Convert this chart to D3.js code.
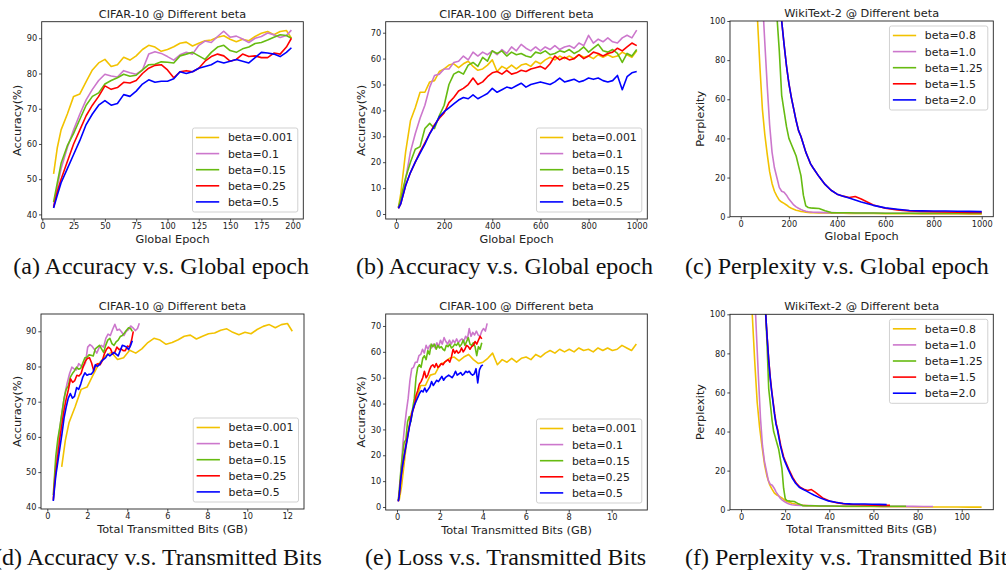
<!DOCTYPE html>
<html>
<head>
<meta charset="utf-8">
<script src="https://cdn.jsdelivr.net/npm/d3@7"></script>
<style>
body { margin: 0; background: #fff; }
svg text { font-family: "DejaVu Sans", sans-serif; fill: #222; }
.caption { font-family: "Liberation Serif", "Times New Roman", serif; font-size: 24px; fill: #111; }
</style>
</head>
<body>
<svg width="1006" height="573"></svg>
<script>
// legend labels and colours
var betaAcc = ["beta=0.001", "beta=0.1", "beta=0.15", "beta=0.25", "beta=0.5"];
var betaPpl = ["beta=0.8", "beta=1.0", "beta=1.25", "beta=1.5", "beta=2.0"];
var colors = ["#f2c200", "#cc77cc", "#66bb11", "#ff0000", "#0000ff"];

// CIFAR-10 accuracy vs epoch
var epochC10 = [9,12,15,20,25,30,35,40,45,50,55,60,65,70,75,80,85,90,95,100,105,110,115,120,125,130,135,140,145,150,155,160,165,170,175,180,185,190,195,199];
var c10Beta0001 = [51.5,59,64,68.5,73.5,74.2,77.7,81,83,84,82,82.5,84.6,83.8,85,86.8,88,87.5,86.3,86.8,87.6,88.6,88.9,87.8,88.6,89.3,89.5,90.3,90.7,89.7,89,89.7,89.3,90.5,91.4,91.9,91,91.9,92.2,90];
var c10Beta01 = [42.5,48,53,59,64,68.5,72.5,75.5,78,79.8,79.3,79,80.8,80.2,79.8,81,85.5,86.2,85.7,84.8,83.8,85.3,86,85.5,88,89.2,88.8,90.5,92,90.3,90.6,89.8,88.8,90,90.5,91.5,91,90.2,90.8,92.3];
var c10Beta015 = [43.5,49,54.5,59.5,63,67,71,73.5,74.5,77,78,78.8,79.8,79.2,79.5,81,82.5,82.6,83.3,83.2,83,85,85.5,86,85,84,86,87.5,88,86.5,86,87,87.5,88.5,88.8,89.5,90.3,91,90.8,90];
var c10Beta025 = [42,46.5,50,55,60,64,68,71,73.5,76.5,75.5,76,77.5,77.3,78,80,81.5,82.3,82.5,81,78.8,80.5,80.8,80.5,81.5,83.5,84.8,85.5,85,83.5,84,85.5,84.8,85,84.5,84.5,85.8,85.5,87.5,90];
var c10Beta05 = [41.8,45.5,49,53,57,61,65.5,68.5,71,72.3,71,71.5,74,73.5,75,77,78.2,77.5,77.8,77.8,78.5,80.5,80,80.5,81.5,82,82.5,83.5,83,83.5,84,83.5,83,84.5,86,85.8,85.5,84.8,86,87.3];

// CIFAR-100 accuracy vs epoch
var epochC100 = [10,20,40,60,80,100,120,140,160,180,200,220,240,260,280,300,320,340,360,380,400,420,440,460,480,500,520,540,560,580,600,620,640,660,680,700,720,740,760,780,800,820,840,860,880,900,920,940,960,980,1000];
var c100Beta0001 = [2.5,8,24,36,41,47,47,51,51.5,55,56,57.5,58,56.5,58,59,57,55.5,56,57.5,59.5,55,57,56,57.5,56,57.5,58,57,59,58,59.5,60.5,59.5,61,60,61,60,61.5,60.5,61,60,61.5,60.5,61.5,60.5,61,62.5,61.5,60.5,63];
var c100Beta01 = [2.5,5,13.5,24,31,37,42,49,53.5,54,56,56,58.5,59,61,59.5,62.5,61,62.5,61.5,63,61.5,63.5,62,64.5,63,65.5,64,63,64.5,63,64.5,63.5,65,63.5,64.5,65,64,66,65,69,66,67.5,66.5,68,66.5,66,68,69,68,71];
var c100Beta015 = [2.5,6,14,20,25,26,33,35,33,38,42,50,54,55,54,57.5,58.5,57,60.5,59,63,62,63,61,62.5,61.5,62,61,60.5,62.5,62,63,61.5,62,63,62.5,63.5,62,63,64.5,62.5,64,65.5,63,62.5,63.5,62,58.5,62,61,63.5];
var c100Beta025 = [2.2,4,11,16,20,24,27.5,31,34.5,37,39,43,45,47.5,48.5,50,52.5,50,51,53,54.5,55,54,55.5,54,54.5,55.5,55,56,56.5,57,56,58,61,59.5,60.5,59.5,60,61.5,60,61,62.5,62,61,62,62.5,64,63,64.5,66,65];
var c100Beta05 = [2.2,4,11,16,20,23.5,27,31,34,37.5,39.5,41,42.5,44,45,44.5,46,44.5,45.5,46.5,48.5,47,48,49,48.5,49.5,50.5,49,50,50.5,51,50.5,50,51,52.5,51,51.5,52,51,51.5,52.5,52,52.5,51.5,51,51.5,53.5,48,53,54.5,55];

// WikiText-2 perplexity vs epoch (null = above the visible range before the curve enters)
var epochWiki = [60,70,80,90,100,110,120,130,140,150,160,170,180,190,200,210,220,230,240,250,260,270,280,290,300,325,350,375,400,425,450,475,500,550,600,650,700,750,800,850,900,950,1000];
var wikiBeta08 = [135,100,76,55,42,32,23,17,13,10.5,8.5,7.5,6.8,6,5,4.3,3.8,3.3,3,2.7,2.5,2.3,2.2,2.1,2,1.9,1.9,1.8,1.8,1.8,1.7,1.7,1.6,1.6,1.5,1.5,1.5,1.4,1.4,1.4,1.4,1.3,1.3];
var wikiBeta10 = [200,170,140,112,89,67,47,33,25,20,15,13,12.5,11,9,7.5,6,5,4.3,3.7,3.2,2.8,2.5,2.4,2.3,2.2,2.1,2.1,2,2,2,1.9,1.9,1.9,1.8,1.8,1.8,1.7,1.7,1.7,1.7,1.6,1.6];
var wikiBeta125 = [null,null,null,null,null,null,null,null,125,103,85,62,54,46,40,37,34,31,26,21,11,5.5,4.7,4.5,4.4,4.2,3,2.1,2,2,2,1.9,1.9,1.9,1.8,1.8,1.8,1.8,1.8,1.8,1.8,1.8,1.8];
var wikiBeta15 = [null,null,null,null,null,null,null,null,null,null,112,100,88,77,68,61,55,49,44,41,37,33,30,27,25,20.5,16.5,13.5,11.5,10.5,9.8,10.3,9,6,4.3,3.5,3,2.7,2.5,2.4,2.3,2.2,2.2];
var wikiBeta20 = [null,null,null,null,null,null,null,null,null,null,112,100,88,77,68,61,55,49,44,41,37,33,30,27,25,20.5,16.5,13.5,11.5,10.5,9.5,8.5,7.5,5.8,4.5,3.8,3.2,3,2.9,2.9,2.8,2.7,2.6];

// transmitted bits: [epoch, GB, epoch, GB] anchors
var c10Bits = [[9,0.72,199,12.25],[9,0.3,199,4.6],[9,0.3,199,4.25],[9,0.3,199,4.3],[9,0.3,199,4.25]];
var c100Bits = [[10,0.1,1000,11.15],[10,0.06,1000,4.2],[10,0.06,1000,3.95],[10,0.06,1000,3.95],[10,0.06,1000,4.0]];
var wikiBits = [[70,5.1,1000,109],[95,6.6,1000,87],[152,11.2,1000,74.8],[170,11.2,1000,67.5],[170,11.2,1000,66]];

// tick values
var ticksEpoch200 = [0,25,50,75,100,125,150,175,200];
var ticksEpoch1000 = [0,200,400,600,800,1000];
var ticksAcc10 = [40,50,60,70,80,90];
var ticksAcc100 = [0,10,20,30,40,50,60,70];
var ticksPpl = [0,20,40,60,80,100];
var ticksGb12 = [0,2,4,6,8,10,12];
var ticksGb10 = [0,2,4,6,8,10];
var ticksGb100 = [0,20,40,60,80,100];

function toBits(epochs, a) {
  var s = d3.scaleLinear().domain([a[0], a[2]]).range([a[1], a[3]]);
  return epochs.map(s);
}

var c10 = [c10Beta0001, c10Beta01, c10Beta015, c10Beta025, c10Beta05];
var c100 = [c100Beta0001, c100Beta01, c100Beta015, c100Beta025, c100Beta05];
var wiki = [wikiBeta08, wikiBeta10, wikiBeta125, wikiBeta15, wikiBeta20];

var panels = [
  {box: [41.7, 21.7, 303.3, 219], xdom: [-0.5, 208.5], ydom: [38.7, 94.7], xt: ticksEpoch200, yt: ticksAcc10,
   title: "CIFAR-10 @ Different beta", xl: "Global Epoch", yl: "Accuracy(%)", ylx: 16.7, leg: "lower", labels: betaAcc,
   xs: c10.map(function() { return epochC10; }), ys: c10,
   cap: "(a) Accuracy v.s. Global epoch", capx: 13.3, capy: 274},
  {box: [385.7, 21.7, 647.3, 219], xdom: [-42.8, 1044], ydom: [-1.93, 74.25], xt: ticksEpoch1000, yt: ticksAcc100,
   title: "CIFAR-100 @ Different beta", xl: "Global Epoch", yl: "Accuracy(%)", ylx: 360.7, leg: "lower", labels: betaAcc,
   xs: c100.map(function() { return epochC100; }), ys: c100,
   cap: "(b) Accuracy v.s. Global epoch", capx: 356, capy: 274},
  {box: [730, 21, 993.3, 216.7], xdom: [-44.4, 1048], ydom: [0, 100], xt: ticksEpoch1000, yt: ticksPpl,
   title: "WikiText-2 @ Different beta", xl: "Global Epoch", yl: "Perplexity", ylx: 700, leg: "upper", labels: betaPpl,
   xs: wiki.map(function() { return epochWiki; }), ys: wiki,
   cap: "(c) Perplexity v.s. Global epoch", capx: 685, capy: 274},
  {box: [41, 314, 304, 509], xdom: [-0.315, 12.835], ydom: [39.52, 94.91], xt: ticksGb12, yt: ticksAcc10,
   title: "CIFAR-10 @ Different beta", xl: "Total Transmitted Bits (GB)", yl: "Accuracy(%)", ylx: 16.7, leg: "lower", labels: betaAcc,
   xs: c10Bits.map(function(a) { return toBits(epochC10, a); }), ys: c10,
   cap: "(d) Accuracy v.s. Transmitted Bits", capx: -6, capy: 565},
  {box: [385.7, 314, 647.3, 510], xdom: [-0.526, 11.66], ydom: [-1.16, 74.63], xt: ticksGb10, yt: ticksAcc100,
   title: "CIFAR-100 @ Different beta", xl: "Total Transmitted Bits (GB)", yl: "Accuracy(%)", ylx: 360.7, leg: "lower", labels: betaAcc,
   xs: c100Bits.map(function(a) { return toBits(epochC100, a); }), ys: c100,
   cap: "(e) Loss v.s. Transmitted Bits", capx: 365, capy: 565},
  {box: [730, 314.3, 993.3, 509.7], xdom: [-4.98, 114.3], ydom: [0, 100], xt: ticksGb100, yt: ticksPpl,
   title: "WikiText-2 @ Different beta", xl: "Total Transmitted Bits (GB)", yl: "Perplexity", ylx: 700, leg: "upper", labels: betaPpl,
   xs: wikiBits.map(function(a) { return toBits(epochWiki, a); }), ys: wiki,
   cap: "(f) Perplexity v.s. Transmitted Bits", capx: 685, capy: 565}
];

var svg = d3.select("svg");

panels.forEach(function(p, i) {
  var x0 = p.box[0], y0 = p.box[1], x1 = p.box[2], y1 = p.box[3];
  var x = d3.scaleLinear().domain(p.xdom).range([x0, x1]),
      y = d3.scaleLinear().domain(p.ydom).range([y1, y0]);

  svg.append("clipPath").attr("id", "clip" + i)
    .append("rect").attr("x", x0).attr("y", y0).attr("width", x1 - x0).attr("height", y1 - y0);

  var line = d3.line()
    .defined(function(d) { return d[1] != null; })
    .x(function(d) { return x(d[0]); })
    .y(function(d) { return y(d[1]); });

  var lines = svg.append("g").attr("clip-path", "url(#clip" + i + ")");
  p.ys.forEach(function(vals, k) {
    var pts = vals.map(function(v, j) { return [p.xs[k][j], v]; });
    lines.append("path")
      .attr("d", line(pts))
      .attr("fill", "none")
      .attr("stroke", colors[k])
      .attr("stroke-width", 1.6)
      .attr("stroke-linejoin", "round");
  });

  var gx = svg.append("g")
    .attr("transform", "translate(0," + y1 + ")")
    .call(d3.axisBottom(x).tickValues(p.xt).tickSize(2.7).tickPadding(1.5).tickFormat(d3.format("d")));
  var gy = svg.append("g")
    .attr("transform", "translate(" + x0 + ",0)")
    .call(d3.axisLeft(y).tickValues(p.yt).tickSize(2.7).tickPadding(1.8).tickFormat(d3.format("d")));
  [gx, gy].forEach(function(g) {
    g.select(".domain").remove();
    g.selectAll("line").attr("stroke", "#222").attr("stroke-width", 0.8);
    g.selectAll("text").attr("font-size", 8.2).attr("font-family", null).attr("fill", null);
  });

  svg.append("rect")
    .attr("x", x0).attr("y", y0).attr("width", x1 - x0).attr("height", y1 - y0)
    .attr("fill", "none").attr("stroke", "#222").attr("stroke-width", 0.9);

  svg.append("text")
    .attr("x", (x0 + x1) / 2).attr("y", y0 - 4.2)
    .attr("text-anchor", "middle").attr("font-size", 11.3)
    .text(p.title);
  svg.append("text")
    .attr("x", (x0 + x1) / 2).attr("y", y1 + 23.5)
    .attr("text-anchor", "middle").attr("font-size", 11.3)
    .text(p.xl);
  svg.append("text")
    .attr("transform", "translate(" + p.ylx + "," + (y0 + y1) / 2 + ") rotate(-90)")
    .attr("text-anchor", "middle").attr("dy", "0.35em").attr("font-size", 11.3)
    .text(p.yl);

  // legend
  var leg = svg.append("g");
  var bg = leg.append("rect");
  var items = leg.selectAll("g.item").data(p.labels).enter().append("g")
    .attr("transform", function(d, k) { return "translate(0," + (9.5 + k * 16.1) + ")"; });
  items.append("line")
    .attr("x1", 3.4).attr("x2", 26.7)
    .attr("stroke", function(d, k) { return colors[k]; })
    .attr("stroke-width", 1.6);
  items.append("text")
    .attr("x", 35.4).attr("dy", "0.36em").attr("font-size", 10.9)
    .text(function(d) { return d; });
  var tw = d3.max(items.selectAll("text").nodes(), function(n) { return n.getComputedTextLength(); });
  var bw = 35.4 + tw + 5, bh = 84;
  bg.attr("width", bw).attr("height", bh).attr("rx", 2)
    .attr("fill", "#fff").attr("fill-opacity", 0.8)
    .attr("stroke", "#cccccc").attr("stroke-width", 0.9);
  var lx = x1 - 5.5 - bw,
      ly = p.leg === "lower" ? y1 - 7 - bh : y0 + 5;
  leg.attr("transform", "translate(" + lx + "," + ly + ")");

  // sub-figure caption; (d) and (f) run past the page edge as in the source figure
  svg.append("text").attr("class", "caption")
    .attr("x", p.capx).attr("y", p.capy)
    .text(p.cap);
});
</script>
</body>
</html>
